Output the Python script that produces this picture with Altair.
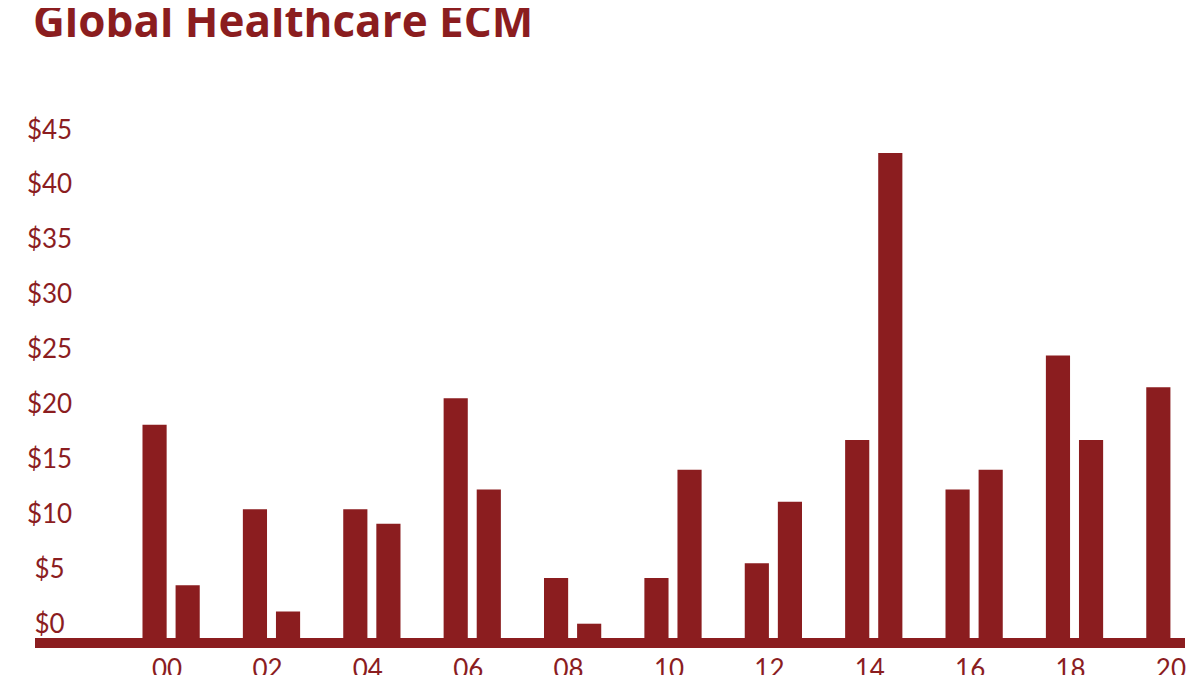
import altair as alt
import pandas as pd

# Data (USD billions)
years = list(range(2000, 2021))
values = [18.2, 3.6, 10.5, 1.2, 10.5, 9.2, 20.6, 12.3, 4.25, 0.1, 4.25,
          14.1, 5.6, 11.2, 16.8, 42.9, 12.3, 14.1, 24.5, 16.8, 21.6]
pair_labels = ["00", "02", "04", "06", "08", "10", "12", "14", "16", "18", "20"]
y_ticks = [0, 5, 10, 15, 20, 25, 30, 35, 40, 45]

RED = "#8B1D1F"
FLOOR = -1.2

df = pd.DataFrame({"year": years, "value": values})
df["pair"] = [pair_labels[(y - 2000) // 2] for y in years]
df["slot"] = [(y - 2000) % 2 for y in years]

bars = alt.Chart(df).mark_bar(color=RED).encode(
    x=alt.X(
        "pair:N",
        sort=pair_labels,
        title=None,
        scale=alt.Scale(range=[106, 1170], paddingInner=0.4, paddingOuter=0),
        axis=alt.Axis(
            domain=False, ticks=False, tickSize=0, labelAngle=0,
            labelFont="Lato", labelFontWeight="normal", labelFontSize=26,
            labelColor=RED, labelPadding=18, labelBaseline="top", labelOffset=-4,
        ),
    ),
    xOffset=alt.XOffset("slot:N", scale=alt.Scale(paddingInner=0.27, paddingOuter=0.045)),
    y=alt.Y(
        "value:Q",
        title=None,
        scale=alt.Scale(domain=[FLOOR, 45], nice=False, zero=False),
        axis=alt.Axis(
            values=y_ticks, domain=False, ticks=False, tickSize=0, grid=False,
            labelExpr="'$' + datum.value",
            labelFont="Lato", labelFontWeight="normal", labelFontSize=26,
            labelColor=RED, labelAlign="center", labelPadding=0, offset=-14,
        ),
    ),
    y2=alt.datum(FLOOR),
)

axis_line = alt.Chart(pd.DataFrame({"k": [0]})).mark_rule(
    color=RED, strokeWidth=10, yOffset=5
).encode(
    x=alt.value(0), x2=alt.value("width"), y=alt.value("height")
)

chart = alt.layer(bars, axis_line).properties(
    width=1150,
    height=508,
    autosize=alt.AutoSizeParams(type="none"),
    padding={"left": 27, "top": 122, "right": 7, "bottom": 37},
    title=alt.Title(
        "Global Healthcare ECM", anchor="start", frame="group",
        font="Open Sans", fontSize=44, fontWeight="bold", color=RED,
        baseline="alphabetic", offset=36, dx=-2,
    ),
    background="white",
).configure_view(stroke=None)

chart.save("out.html", embed_options={"renderer": "svg", "actions": False})
